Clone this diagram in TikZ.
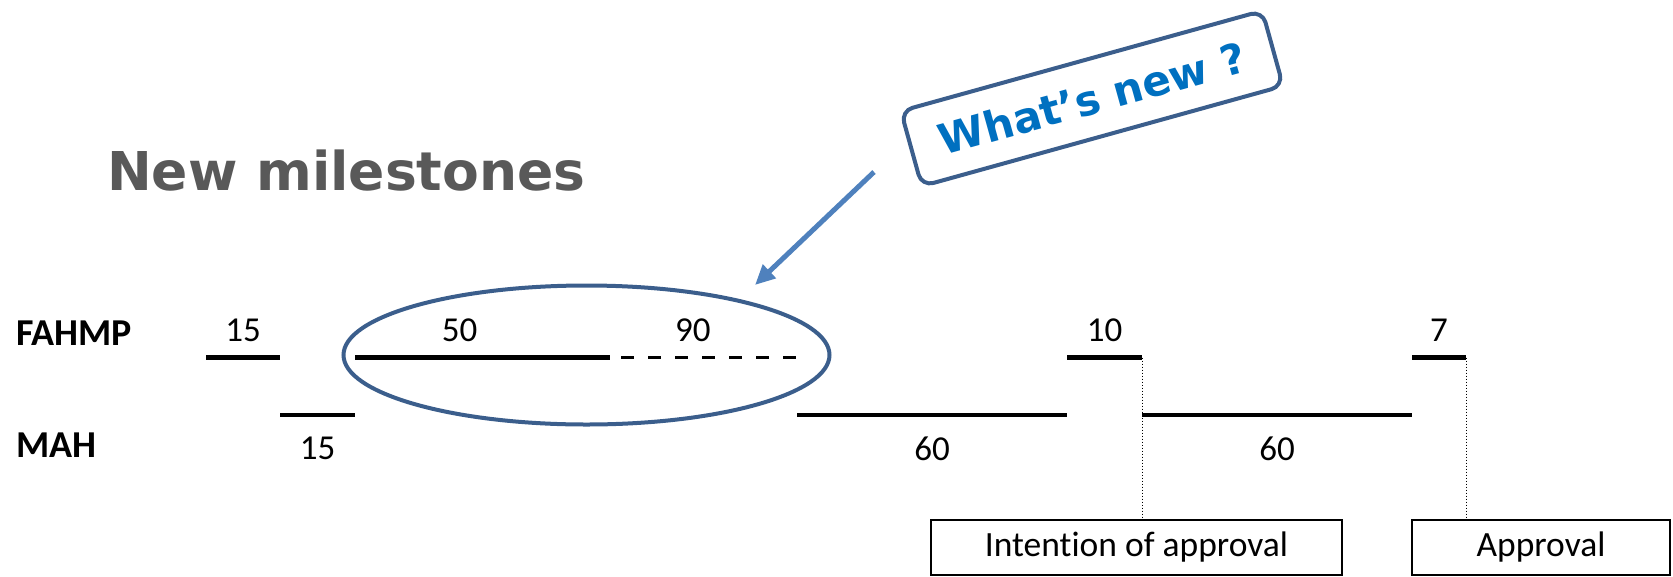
\documentclass[tikz,border=0pt]{standalone}
\usepackage{fontspec}
\setmainfont{Carlito}[Ligatures={NoCommon}]
\newfontfamily\headfont{DejaVu Sans}
\usetikzlibrary{shapes.geometric,arrows.meta,calc}
\definecolor{titlegray}{HTML}{595959}
\definecolor{ringblue}{HTML}{3B5E8C}
\definecolor{calloutblue}{HTML}{0070C0}
\definecolor{arrowblue}{HTML}{4F81BD}

\begin{document}
\begin{tikzpicture}[x=1pt,y=-1pt,
  bar/.style={line width=4.5pt},
  dashbar/.style={line width=3pt, dash pattern=on 13pt off 14pt},
  lbl/.style={font=\fontsize{35}{40}\selectfont, inner sep=0pt},
  above lbl/.style={lbl, above, yshift=14pt},
  below lbl/.style={lbl, below, yshift=-19.5pt},
  rowlbl/.style={font=\fontsize{38}{44}\selectfont\bfseries, inner sep=0pt, anchor=west},
  guide/.style={line width=1pt, dotted},
  stagebox/.style={draw, line width=2pt, minimum height=55pt,
    font=\fontsize{35.5}{40}\selectfont, inner sep=0pt},
  pointer/.style={draw=arrowblue, line width=5pt,
    -{Triangle[length=20pt,width=18pt]}},
]
\useasboundingbox (0,0) rectangle (1673,576);

% heading
\node[anchor=base west, inner sep=0pt, text=titlegray,
      font=\headfont\bfseries\fontsize{53.5}{60}\selectfont] (title) at (107,190) {New milestones};

% row labels
\node[rowlbl] (fahmp) at (16,333) {FAHMP};
\node[rowlbl] (mah)   at (16,445) {MAH};

% FAHMP time line
\coordinate (f15a) at (206,357.5);  \coordinate (f15b) at (280,357.5);
\coordinate (f50a) at (355,357.5);  \coordinate (f50b) at (610,357.5);
\coordinate (f90a) at (621,357.5);  \coordinate (f90b) at (796,357.5);
\coordinate (f10a) at (1067,357.5); \coordinate (f10b) at (1142,357.5);
\coordinate (f7a)  at (1412,357.5); \coordinate (f7b)  at (1466,357.5);

% MAH time line
\coordinate (m15a) at (280,415);  \coordinate (m15b) at (355,415);
\coordinate (m60a) at (797,415);  \coordinate (m60b) at (1067,415);
\coordinate (n60a) at (1142,415); \coordinate (n60b) at (1412,415);

\draw[bar] (f15a) -- node[above lbl] {15} (f15b);
\draw[bar] (f50a) -- node[above lbl, pos=0.41] {50} (f50b);
\draw[dashbar] (f90a) -- node[above lbl, pos=0.41] {90} (f90b);
\draw[bar] (f10a) -- node[above lbl] {10} (f10b);
\draw[bar] (f7a) -- node[above lbl] {7} (f7b);

\draw[bar] (m15a) -- node[below lbl] {15} (m15b);
\draw[bar] (m60a) -- node[below lbl] {60} (m60b);
\draw[bar] (n60a) -- node[below lbl] {60} (n60b);

% decision boxes
\node[stagebox, minimum width=411pt] (ibox) at (1136.5,547.5) {Intention of approval};
\node[stagebox, minimum width=258pt] (abox) at (1541,547.5) {Approval};

\draw[guide] (f10b) -- (f10b |- ibox.north);
\draw[guide] (f7b) -- (f7b |- abox.north);

% highlighted period
\node[draw=ringblue, line width=4pt, ellipse, inner sep=0pt,
      minimum width=486pt, minimum height=139pt] (ring) at (586.5,355) {};

% callout
\node[draw=ringblue, line width=4pt, rounded corners=12pt, fill=white,
      minimum width=375pt, minimum height=78pt, rotate=15.5, text=calloutblue,
      font=\headfont\bfseries\fontsize{42}{48}\selectfont] (news) at (1092,98.5) {What’s new ?};

\coordinate (arrS) at (874,172);
\coordinate (arrE) at (755,285);
\draw[pointer] (arrS) -- (arrE);
\end{tikzpicture}
\end{document}
